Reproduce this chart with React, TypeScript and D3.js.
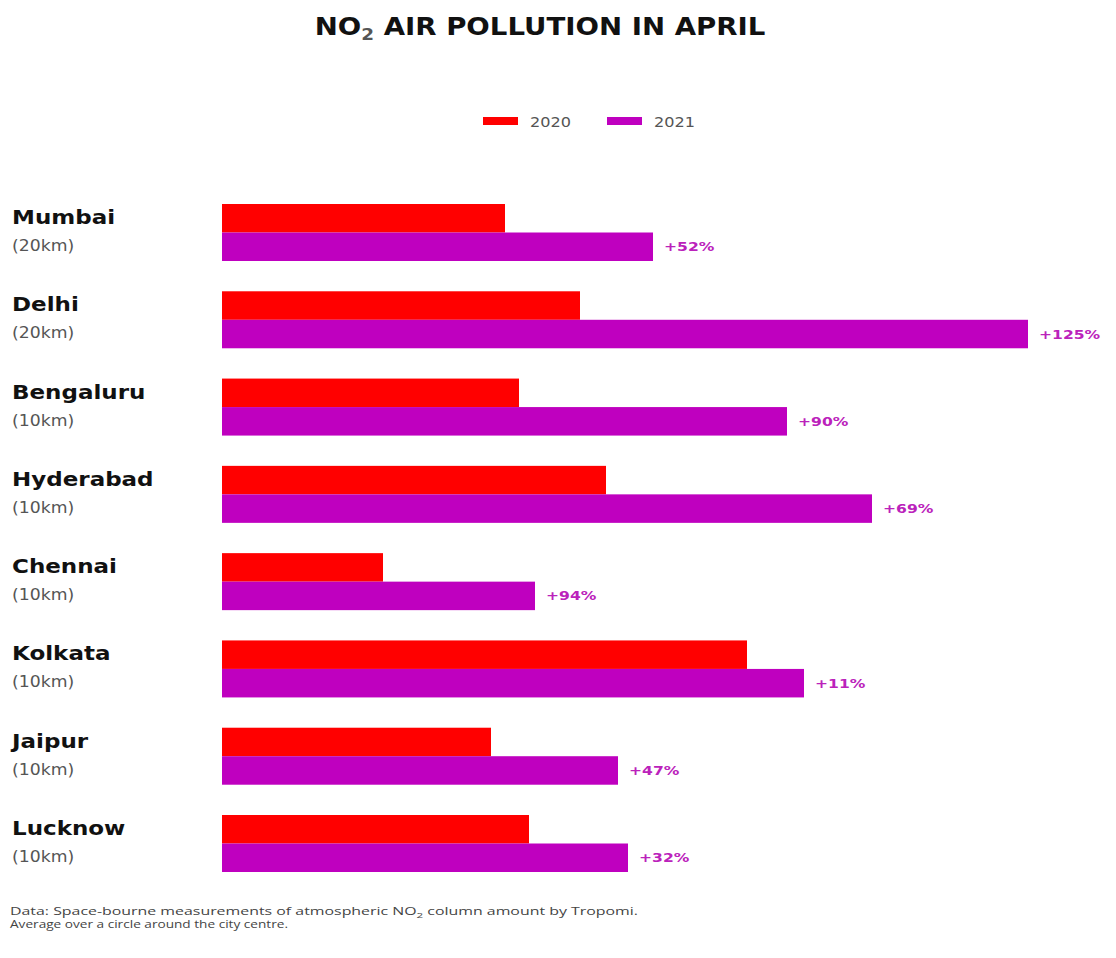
import React, { useEffect, useRef } from 'react'
import * as d3 from 'd3'

// cities and their averaging radius
const cities = ['Mumbai', 'Delhi', 'Bengaluru', 'Hyderabad', 'Chennai', 'Kolkata', 'Jaipur', 'Lucknow']
const radius = ['(20km)', '(20km)', '(10km)', '(10km)', '(10km)', '(10km)', '(10km)', '(10km)']

// NO2 column amount (relative units)
const values2020 = [2.83, 3.58, 2.97, 3.84, 1.61, 5.25, 2.69, 3.07]
const values2021 = [4.31, 8.06, 5.65, 6.50, 3.13, 5.82, 3.96, 4.06]
const changeLabels = ['+52%', '+125%', '+90%', '+69%', '+94%', '+11%', '+47%', '+32%']

const years = ['2020', '2021']
const colors = ['#ff0000', '#bf00bf']

const W = 1116
const H = 958
const SX = 1.15 // the source picture is stretched a little horizontally

function App () {
  const ref = useRef<SVGSVGElement>(null)

  useEffect(() => {
    const svg = d3.select(ref.current)
    svg.selectAll('*').remove()

    const x = d3.scaleLinear()
      .domain([0, 8])
      .range([222, 1022])

    const y = d3.scaleBand()
      .domain(cities)
      .range([204, 872])
      .paddingInner(0.347)
      .paddingOuter(0)

    const half = y.bandwidth() / 2

    // title
    const title = svg.append('text')
      .attr('transform', `translate(540,35) scale(${SX},1)`)
      .attr('text-anchor', 'middle')
      .style('font-family', 'DejaVu Sans')
      .style('font-weight', 'bold')
      .style('font-size', '24px')
      .attr('fill', '#111')
    title.append('tspan').text('NO')
    title.append('tspan').attr('dy', 5).style('font-size', '16px').attr('fill', '#555').text('2')
    title.append('tspan').attr('dy', -5).text(' AIR POLLUTION IN APRIL')

    // legend
    const legend = svg.append('g')
    const legendX = [483, 607]
    years.forEach((yr, i) => {
      legend.append('rect')
        .attr('x', legendX[i])
        .attr('y', 117)
        .attr('width', 35)
        .attr('height', 8)
        .attr('fill', colors[i])
      legend.append('text')
        .attr('transform', `translate(${legendX[i] + 47},127) scale(${SX},1)`)
        .style('font-family', 'DejaVu Sans')
        .style('font-size', '14px')
        .attr('fill', '#555')
        .text(yr)
    })

    // bars
    const rows = svg.selectAll('.row')
      .data(cities)
      .enter()
      .append('g')
      .attr('class', 'row')

    rows.append('rect')
      .attr('x', x(0))
      .attr('y', d => y(d)!)
      .attr('width', (d, i) => x(values2020[i]) - x(0))
      .attr('height', half)
      .attr('fill', colors[0])

    rows.append('rect')
      .attr('x', x(0))
      .attr('y', d => y(d)! + half)
      .attr('width', (d, i) => x(values2021[i]) - x(0))
      .attr('height', half)
      .attr('fill', colors[1])

    // percentage change labels
    rows.append('text')
      .attr('transform', (d, i) => `translate(${x(values2021[i]) + 11},${y(d)! + half * 1.5 + 4.5}) scale(1.3,1)`)
      .style('font-family', 'DejaVu Sans')
      .style('font-weight', 'bold')
      .style('font-size', '12px')
      .attr('fill', '#bb22bb')
      .text((d, i) => changeLabels[i])

    // city names
    rows.append('text')
      .attr('transform', d => `translate(12,${y(d)! + 20}) scale(${SX},1)`)
      .style('font-family', 'DejaVu Sans')
      .style('font-weight', 'bold')
      .style('font-size', '20px')
      .attr('fill', '#111')
      .text(d => d)

    rows.append('text')
      .attr('transform', d => `translate(12,${y(d)! + 47}) scale(${SX},1)`)
      .style('font-family', 'DejaVu Sans')
      .style('font-size', '15px')
      .attr('fill', '#555')
      .text((d, i) => radius[i])

    // footer note
    const note = svg.append('g')
      .style('font-family', 'Open Sans')
      .style('font-size', '11px')
      .attr('fill', '#444')
    const line1 = note.append('text')
      .attr('x', 10)
      .attr('y', 915)
      .attr('textLength', 628)
      .attr('lengthAdjust', 'spacingAndGlyphs')
    line1.append('tspan').text('Data: Space-bourne measurements of atmospheric NO')
    line1.append('tspan').attr('dy', 3).style('font-size', '8px').text('2')
    line1.append('tspan').attr('dy', -3).text(' column amount by Tropomi.')
    note.append('text')
      .attr('x', 10)
      .attr('y', 928)
      .attr('textLength', 278)
      .attr('lengthAdjust', 'spacingAndGlyphs')
      .text('Average over a circle around the city centre.')
  }, [])

  return (
    <svg
      ref={ref}
      width={W}
      height={H}
      style={{ position: 'absolute', left: 0, top: 0, background: '#fff' }}
    />
  )
}

export default App
